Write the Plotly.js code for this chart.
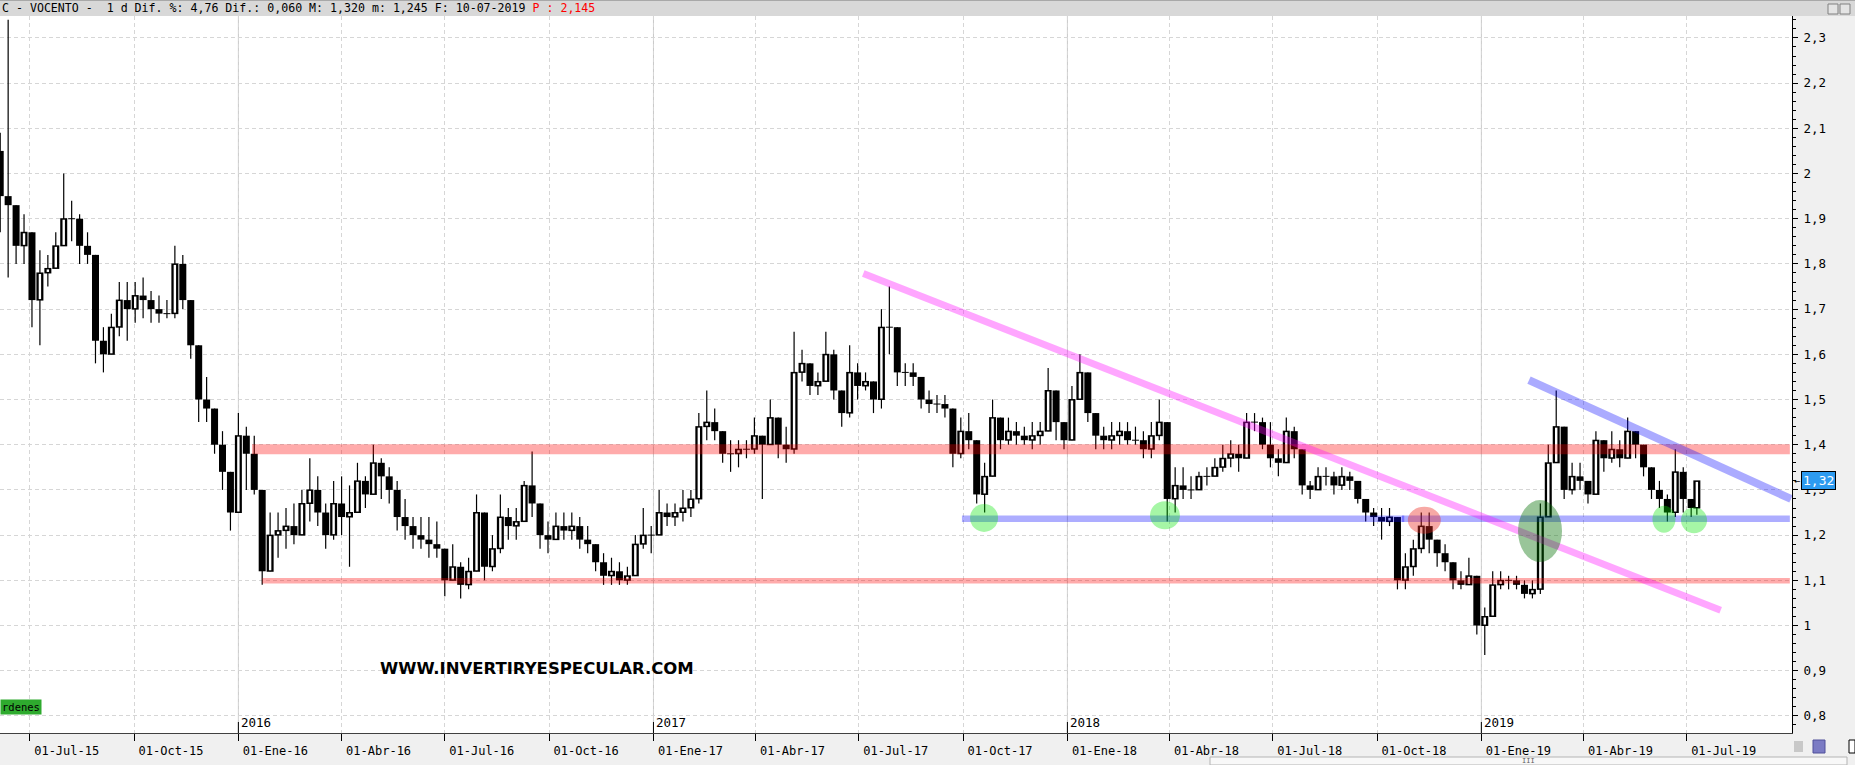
<!DOCTYPE html>
<html>
<head>
<meta charset="utf-8">
<script src="https://cdn.plot.ly/plotly-3.0.1.min.js"></script>
<style>html,body{margin:0;padding:0;background:#f0f0f0;}#chart{width:1855px;height:765px;}</style>
</head>
<body>
<div id="chart"></div>
<script>
// ---- data (weekly candles) ----
const startDate = '2015-06-05';
const lastDate = '2019-07-10';
const firstOpen = 2.05;
const close = [
1.95,1.93,1.84,1.87,1.72,1.78,1.79,1.84,1.90,1.90,
1.84,1.82,1.63,1.60,1.66,1.72,1.70,1.73,1.72,1.70,
1.69,1.69,1.80,1.72,1.62,1.50,1.48,1.40,1.34,1.25,
1.42,1.38,1.30,1.12,1.20,1.21,1.22,1.20,1.27,1.30,
1.25,1.20,1.27,1.24,1.25,1.32,1.29,1.36,1.33,1.30,
1.24,1.22,1.20,1.19,1.18,1.17,1.10,1.13,1.09,1.12,
1.25,1.13,1.17,1.24,1.22,1.23,1.31,1.27,1.20,1.19,
1.22,1.21,1.22,1.19,1.18,1.14,1.11,1.12,1.10,1.11,
1.18,1.20,1.20,1.25,1.24,1.25,1.26,1.28,1.44,1.45,
1.43,1.38,1.38,1.39,1.39,1.42,1.40,1.46,1.40,1.39,
1.56,1.58,1.53,1.54,1.60,1.52,1.47,1.56,1.53,1.54,
1.50,1.66,1.66,1.56,1.56,1.55,1.50,1.49,1.49,1.48,
1.38,1.43,1.41,1.29,1.33,1.46,1.41,1.43,1.42,1.41,
1.42,1.43,1.52,1.45,1.41,1.50,1.56,1.47,1.42,1.41,
1.42,1.43,1.41,1.41,1.39,1.42,1.45,1.28,1.31,1.30,
1.30,1.33,1.33,1.35,1.37,1.38,1.37,1.45,1.45,1.40,
1.37,1.36,1.43,1.39,1.31,1.30,1.33,1.33,1.31,1.33,
1.32,1.28,1.25,1.24,1.23,1.24,1.10,1.13,1.17,1.22,
1.19,1.16,1.14,1.10,1.09,1.11,1.00,1.02,1.09,1.10,
1.10,1.09,1.07,1.08,1.24,1.36,1.44,1.30,1.33,1.32,
1.29,1.41,1.37,1.39,1.37,1.43,1.40,1.35,1.30,1.28,
1.25,1.34,1.28,1.26,1.32
];
const high = [
2.09,2.34,1.93,1.91,1.80,1.83,1.82,1.87,2.00,1.94,
1.91,1.87,1.80,1.66,1.69,1.76,1.76,1.76,1.77,1.74,
1.73,1.72,1.84,1.82,1.70,1.58,1.55,1.48,1.43,1.33,
1.47,1.44,1.42,1.25,1.25,1.25,1.26,1.27,1.30,1.37,
1.33,1.27,1.32,1.33,1.31,1.36,1.33,1.40,1.37,1.35,
1.32,1.28,1.24,1.24,1.24,1.23,1.17,1.18,1.14,1.15,
1.29,1.24,1.20,1.29,1.26,1.26,1.32,1.385,1.25,1.23,
1.25,1.25,1.25,1.24,1.22,1.18,1.16,1.15,1.14,1.13,
1.20,1.26,1.22,1.30,1.27,1.27,1.30,1.30,1.47,1.52,
1.48,1.43,1.41,1.41,1.41,1.46,1.42,1.50,1.46,1.44,
1.65,1.61,1.57,1.56,1.65,1.61,1.51,1.62,1.58,1.56,
1.54,1.70,1.75,1.64,1.58,1.58,1.55,1.52,1.51,1.51,
1.48,1.46,1.47,1.37,1.36,1.50,1.46,1.46,1.45,1.44,
1.45,1.45,1.57,1.52,1.44,1.53,1.60,1.53,1.45,1.44,
1.45,1.45,1.45,1.44,1.43,1.45,1.50,1.41,1.35,1.35,
1.33,1.34,1.35,1.37,1.40,1.41,1.40,1.47,1.47,1.46,
1.45,1.39,1.46,1.44,1.36,1.32,1.35,1.35,1.34,1.35,
1.34,1.31,1.28,1.26,1.26,1.26,1.23,1.16,1.19,1.25,
1.25,1.18,1.18,1.12,1.12,1.15,1.10,1.04,1.12,1.12,
1.11,1.11,1.10,1.10,1.27,1.40,1.52,1.42,1.36,1.36,
1.32,1.43,1.40,1.43,1.41,1.46,1.43,1.40,1.35,1.32,
1.29,1.39,1.35,1.28,1.32
];
const low = [
1.87,1.77,1.80,1.80,1.66,1.62,1.75,1.80,1.84,1.85,
1.80,1.80,1.58,1.56,1.61,1.64,1.63,1.67,1.68,1.67,
1.67,1.68,1.68,1.70,1.59,1.45,1.45,1.38,1.30,1.21,
1.26,1.30,1.29,1.09,1.13,1.15,1.17,1.18,1.20,1.23,
1.22,1.17,1.19,1.20,1.13,1.27,1.26,1.31,1.28,1.27,
1.21,1.19,1.17,1.17,1.15,1.15,1.065,1.10,1.06,1.08,
1.12,1.10,1.12,1.16,1.19,1.19,1.24,1.24,1.17,1.16,
1.19,1.19,1.19,1.17,1.16,1.12,1.09,1.09,1.09,1.09,
1.11,1.17,1.16,1.20,1.22,1.22,1.23,1.24,1.27,1.41,
1.41,1.36,1.34,1.35,1.37,1.38,1.28,1.40,1.37,1.36,
1.38,1.54,1.51,1.51,1.55,1.50,1.44,1.46,1.50,1.52,
1.47,1.48,1.60,1.53,1.53,1.53,1.48,1.47,1.47,1.46,
1.35,1.37,1.39,1.27,1.25,1.33,1.39,1.40,1.40,1.40,
1.39,1.40,1.44,1.41,1.39,1.41,1.50,1.45,1.39,1.39,
1.39,1.40,1.40,1.40,1.37,1.37,1.41,1.23,1.25,1.28,
1.28,1.30,1.31,1.33,1.34,1.35,1.34,1.37,1.43,1.39,
1.35,1.33,1.37,1.37,1.29,1.28,1.31,1.31,1.29,1.30,
1.30,1.27,1.23,1.22,1.19,1.22,1.08,1.08,1.11,1.16,
1.16,1.13,1.12,1.08,1.08,1.09,0.98,0.935,1.04,1.08,
1.08,1.08,1.06,1.06,1.07,1.25,1.38,1.28,1.29,1.30,
1.27,1.33,1.34,1.36,1.35,1.40,1.37,1.33,1.28,1.26,
1.23,1.24,1.25,1.24,1.245
];

// axis ticks
const tickDates = ['2015-07-01','2015-10-01','2016-01-01','2016-04-01','2016-07-01','2016-10-01',
 '2017-01-01','2017-04-01','2017-07-01','2017-10-01','2018-01-01','2018-04-01','2018-07-01',
 '2018-10-01','2019-01-01','2019-04-01','2019-07-01'];
const tickLabels = ['01-Jul-15','01-Oct-15','01-Ene-16','01-Abr-16','01-Jul-16','01-Oct-16',
 '01-Ene-17','01-Abr-17','01-Jul-17','01-Oct-17','01-Ene-18','01-Abr-18','01-Jul-18',
 '01-Oct-18','01-Ene-19','01-Abr-19','01-Jul-19'];
const yearDates = ['2016-01-01','2017-01-01','2018-01-01','2019-01-01'];
const yearLabels = ['2016','2017','2018','2019'];

// drawn support / resistance lines
const hLevels = [
  {x0:'2016-01-13', x1:'2019-09-30', y:1.390, w:10,  c:'rgba(255,0,0,0.33)'},
  {x0:'2016-01-22', x1:'2019-09-30', y:1.099, w:5.5, c:'rgba(255,0,0,0.33)'},
  {x0:'2017-09-30', x1:'2018-10-25', y:1.236, w:6.5, c:'rgba(0,0,255,0.32)'},
  {x0:'2018-10-23', x1:'2019-09-30', y:1.236, w:6.5, c:'rgba(0,0,255,0.32)'}
];
const trendLines = [
  {x0:'2017-07-05', y0:1.779, x1:'2019-07-31', y1:1.034, w:7, c:'rgba(255,0,255,0.35)'},
  {x0:'2019-02-12', y0:1.543, x1:'2019-10-01', y1:1.280, w:8, c:'rgba(0,0,255,0.33)'}
];
const marks = [
  {x:'2017-10-19 12:00', y:1.238, rx:14,  ry:14,  c:'rgba(0,230,0,0.35)'},
  {x:'2018-03-28',       y:1.244, rx:15,  ry:14,  c:'rgba(0,230,0,0.35)'},
  {x:'2018-11-11 17:00', y:1.233, rx:16.5,ry:13.5,c:'rgba(235,40,30,0.40)'},
  {x:'2019-02-21 17:00', y:1.209, rx:22,  ry:31,  c:'rgba(0,110,0,0.40)'},
  {x:'2019-06-11',       y:1.235, rx:11.5,ry:13.5,c:'rgba(0,230,0,0.35)'},
  {x:'2019-07-07 12:00', y:1.233, rx:13,  ry:13,  c:'rgba(0,230,0,0.35)'}
];
const lastPrice = 1.32;

// ---- build candles ----
function addDays(s, n){ const d = new Date(s + 'T00:00:00Z'); d.setUTCDate(d.getUTCDate() + n); return d.toISOString().slice(0,10); }
const dates = close.map((_, i) => i < close.length - 1 ? addDays(startDate, 7*i) : lastDate);
const open = close.map((_, i) => i === 0 ? firstOpen : close[i-1]);

const Y0 = 0.7622, Y1 = 2.3485, PLOT_H = 717;
const onePx = (Y1 - Y0) / PLOT_H;

const wx = [], wy = [], dx = [], dy = [], ux = [], uy = [], iux = [], iuy = [];
dates.forEach((d, i) => {
  const o = open[i], c = close[i];
  const top = Math.max(o, c), bot = Math.min(o, c);
  wx.push(d, d, null); wy.push(Math.min(low[i], bot), Math.max(high[i], top), null);
  if (c < o) { dx.push(d, d, null); dy.push(o, c, null); }
  else {
    ux.push(d, d, null); uy.push(bot - onePx*0.5, top + onePx*0.5, null);
    if (top - bot > 2.5*onePx) { iux.push(d, d, null); iuy.push(bot + onePx, top - onePx, null); }
  }
});
const base = {type:'scatter', mode:'lines', hoverinfo:'skip', showlegend:false, connectgaps:false};
const traces = [
  Object.assign({}, base, {x:wx, y:wy, line:{color:'#000', width:1.2}}),
  Object.assign({}, base, {x:dx, y:dy, line:{color:'#000', width:7}}),
  Object.assign({}, base, {x:ux, y:uy, line:{color:'#000', width:7}}),
  Object.assign({}, base, {x:iux, y:iuy, line:{color:'#fff', width:2.4}})
];

// ---- shapes ----
const W = 1855, H = 765, ML = 0, MR = 63, MT = 16, MB = 32;
const PW = W - ML - MR;
const px2paperX = X => (X - ML) / PW;
const px2paperY = Y => (H - MB - Y) / PLOT_H;

const shapes = [];
yearDates.forEach(d => {
  shapes.push({type:'line', xref:'x', yref:'paper', x0:d, x1:d, y0:0, y1:1, layer:'between', line:{color:'#c8c8c8', width:1}});
  shapes.push({type:'line', xref:'x', yref:'paper', x0:d, x1:d, ysizemode:'pixel', yanchor:0, y0:0, y1:11, line:{color:'#000', width:1}});
});
hLevels.forEach(l => shapes.push({type:'line', xref:'x', yref:'y', x0:l.x0, x1:l.x1, y0:l.y, y1:l.y, line:{color:l.c, width:l.w}}));
trendLines.forEach(l => shapes.push({type:'line', xref:'x', yref:'y', x0:l.x0, x1:l.x1, y0:l.y0, y1:l.y1, line:{color:l.c, width:l.w}}));
marks.forEach(m => shapes.push({type:'circle', xref:'x', yref:'y', xsizemode:'pixel', ysizemode:'pixel',
  xanchor:m.x, yanchor:m.y, x0:-m.rx, x1:m.rx, y0:-m.ry, y1:m.ry, fillcolor:m.c, line:{width:0}}));
// header bar
shapes.push({type:'rect', xref:'paper', yref:'paper', x0:0, x1:px2paperX(W), y0:1, y1:px2paperY(0), fillcolor:'#d8d8d8', line:{width:0}});
shapes.push({type:'line', xref:'paper', yref:'paper', x0:0, x1:px2paperX(W), y0:px2paperY(0.5), y1:px2paperY(0.5), line:{color:'#a8a8a8', width:1}});
// window buttons
shapes.push({type:'rect', xref:'paper', yref:'paper', x0:px2paperX(1828), x1:px2paperX(1838), y0:px2paperY(14), y1:px2paperY(4), fillcolor:'#e4e4e4', line:{color:'#808080', width:1}});
shapes.push({type:'rect', xref:'paper', yref:'paper', x0:px2paperX(1840), x1:px2paperX(1850), y0:px2paperY(14), y1:px2paperY(4), fillcolor:'#e4e4e4', line:{color:'#808080', width:1}});
// scrollbar
shapes.push({type:'rect', xref:'paper', yref:'paper', x0:px2paperX(1210), x1:px2paperX(1847), y0:px2paperY(765), y1:px2paperY(757), fillcolor:'#f8f8f8', line:{color:'#b4b4b4', width:1}});
// bottom right icons
shapes.push({type:'rect', xref:'paper', yref:'paper', x0:px2paperX(1794), x1:px2paperX(1803), y0:px2paperY(752), y1:px2paperY(741), fillcolor:'#c8c8c8', line:{width:0}});
shapes.push({type:'rect', xref:'paper', yref:'paper', x0:px2paperX(1813), x1:px2paperX(1825), y0:px2paperY(753), y1:px2paperY(740), fillcolor:'#7b7bc4', line:{color:'#50509a', width:1}});
shapes.push({type:'rect', xref:'paper', yref:'paper', x0:px2paperX(1849), x1:px2paperX(1855), y0:px2paperY(753), y1:px2paperY(740), fillcolor:'#ffffff', line:{color:'#000', width:1}});

// ---- annotations ----
const mono = 'DejaVu Sans Mono';
const annotations = [];
yearDates.forEach((d, i) => annotations.push({xref:'x', yref:'paper', x:d, y:0, xanchor:'left', yanchor:'bottom',
  xshift:1, yshift:1, text:yearLabels[i], showarrow:false, font:{family:mono, size:12.5, color:'#000'}}));
annotations.push({xref:'paper', yref:'paper', x:0, y:px2paperY(8), xanchor:'left', yanchor:'middle', showarrow:false,
  text:'C - VOCENTO -  1 d Dif. %: 4,76 Dif.: 0,060 M: 1,320 m: 1,245 F: 10-07-2019 <span style="color:#ff0000">P : 2,145</span>',
  font:{family:mono, size:11.6, color:'#000'}});
annotations.push({xref:'paper', yref:'y', x:px2paperX(1792), y:lastPrice, xanchor:'left', yanchor:'middle', showarrow:false,
  text:'←', font:{family:mono, size:10, color:'#000'}});
annotations.push({xref:'paper', yref:'y', x:px2paperX(1801), y:lastPrice, xanchor:'left', yanchor:'middle', showarrow:false,
  text:'1,32', bgcolor:'#2d9bf0', bordercolor:'#000', borderwidth:1, borderpad:1, font:{family:mono, size:13, color:'#fff'}});
annotations.push({xref:'paper', yref:'paper', x:px2paperX(537), y:px2paperY(668), xanchor:'center', yanchor:'middle', showarrow:false,
  text:'<b>WWW.INVERTIRYESPECULAR.COM</b>', font:{family:'DejaVu Sans', size:16.5, color:'#000'}});
annotations.push({xref:'paper', yref:'paper', x:0, y:px2paperY(706.5), xanchor:'left', yanchor:'middle', showarrow:false,
  text:'rdenes', bgcolor:'#2eaa2e', borderpad:1, font:{family:mono, size:10.5, color:'#000'}});
annotations.push({xref:'paper', yref:'paper', x:px2paperX(1528), y:px2paperY(761), xanchor:'center', yanchor:'middle', showarrow:false,
  text:'III', font:{family:mono, size:7, color:'#606060'}});

const layout = {
  width:W, height:H,
  margin:{l:ML, r:MR, t:MT, b:MB, pad:0},
  paper_bgcolor:'#f0f0f0', plot_bgcolor:'#ffffff',
  separators:',.',
  showlegend:false,
  xaxis:{type:'date', range:['2015-06-04 19:30','2019-10-01 21:30'], tickmode:'array', tickvals:tickDates, ticktext:tickLabels,
    ticks:'outside', ticklen:7, tickcolor:'#000', tickwidth:1, showgrid:true, gridcolor:'#d6d6d6', griddash:'4px,3px', gridwidth:1,
    showline:true, linecolor:'#404040', linewidth:1, zeroline:false, ticklabelshift:37, ticklabelstandoff:0,
    tickfont:{family:mono, size:12, color:'#000'}, fixedrange:true},
  yaxis:{side:'right', range:[Y0, Y1], tick0:0, dtick:0.1, ticks:'outside', ticklen:5, tickcolor:'#000', tickwidth:1,
    showline:true, linecolor:'#000', linewidth:1, showgrid:true, gridcolor:'#d6d6d6', griddash:'4px,3px', gridwidth:1, zeroline:false,
    minor:{dtick:0.02, tick0:0, ticks:'outside', ticklen:3, tickcolor:'#000', showgrid:false},
    tickfont:{family:mono, size:12.5, color:'#000'}, ticklabelstandoff:3, fixedrange:true},
  shapes:shapes,
  annotations:annotations
};
Plotly.newPlot('chart', traces, layout, {displayModeBar:false, staticPlot:true});
</script>
</body>
</html>
